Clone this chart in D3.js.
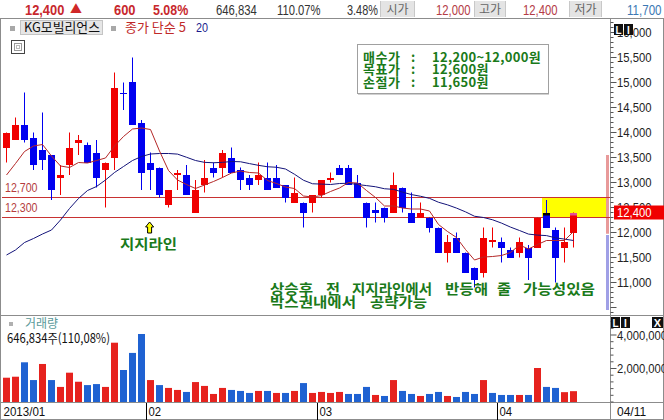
<!DOCTYPE html>
<html><head><meta charset="utf-8">
<script src="https://cdn.jsdelivr.net/npm/d3@7"></script>
<style>
html,body{margin:0;padding:0;background:#fff;}
svg{display:block;}
</style></head><body>
<svg id="c" width="664" height="420"></svg>
<script>
// ---------------- DATA ----------------
const dates = [
 "2013-01-10","2013-01-11","2013-01-14","2013-01-15","2013-01-16","2013-01-17","2013-01-18","2013-01-21","2013-01-22","2013-01-23","2013-01-24","2013-01-25","2013-01-28","2013-01-29","2013-01-30","2013-01-31",
 "2013-02-01","2013-02-04","2013-02-05","2013-02-06","2013-02-07","2013-02-08","2013-02-12","2013-02-13","2013-02-14","2013-02-15","2013-02-18","2013-02-19","2013-02-20","2013-02-21","2013-02-22","2013-02-25","2013-02-26","2013-02-27","2013-02-28",
 "2013-03-04","2013-03-05","2013-03-06","2013-03-07","2013-03-08","2013-03-11","2013-03-12","2013-03-13","2013-03-14","2013-03-15","2013-03-18","2013-03-19","2013-03-20","2013-03-21","2013-03-22","2013-03-25","2013-03-26","2013-03-27","2013-03-28","2013-03-29",
 "2013-04-01","2013-04-02","2013-04-03","2013-04-04","2013-04-05","2013-04-08","2013-04-09","2013-04-10","2013-04-11"];
const opens = [13700,13850,14150,13900,13650,13550,13100,13350,13800,13750,13600,13250,13500,14800,15000,14200,13400,13300,12550,13150,13150,12400,12950,13300,13300,13500,13250,13100,13050,13100,13100,12950,12600,12600,12600,12750,13050,13300,13300,13000,12600,12450,12500,12400,12900,12400,12300,12300,12100,11600,11900,11600,11300,11200,11800,11800,11650,11600,11700,11700,12400,12050,11700,12000];
const highs = [14000,14300,14800,14000,14400,13550,13350,14000,13950,13800,13850,13400,15200,15000,15500,14250,13600,13300,12850,13250,13350,13050,13450,13400,13650,13700,13300,13150,13400,13400,13350,12950,13100,12600,12750,13050,13200,13350,13350,13150,12600,12600,12500,13200,12900,12800,12600,12300,12100,11950,12000,11600,11300,12100,12100,11900,11700,11900,11750,12300,12650,12100,12100,12400];
const lows = [13400,13850,13800,13250,13250,12650,12750,13150,13550,13400,12900,12500,13250,14450,14150,12850,12850,12700,12500,12850,12750,12400,12800,13100,13100,13200,12850,12850,12950,12850,12900,12600,12600,12100,12400,12700,13000,13150,12950,12700,12100,12200,12200,12400,12400,12200,12300,12000,11600,11400,11600,11200,10900,11100,11700,11400,11500,11500,11050,11700,12100,11000,11400,11700];
const closes = [14000,14150,13850,13350,13450,12850,13150,13700,13850,13400,13100,13400,14900,14800,14150,13200,13250,12750,12850,13200,12750,12850,13100,13200,13600,13200,13050,12950,13150,12850,12900,12700,12800,12400,12750,13050,13100,13150,12950,12700,12300,12400,12300,12950,12500,12200,12400,12100,11600,11800,11600,11200,11050,11900,11850,11700,11500,11800,11500,12300,12100,11500,11800,12400];
const volumes = [1450000,1510000,2370000,1310000,2270000,1310000,900000,1750000,1210000,1010000,1070000,900000,3540000,1910000,2930000,4060000,1310000,1010000,840000,720000,600000,1190000,960000,480000,840000,720000,660000,540000,660000,660000,540000,540000,660000,1130000,540000,600000,540000,600000,480000,480000,900000,420000,360000,1310000,660000,480000,360000,480000,600000,360000,300000,600000,480000,1310000,540000,420000,420000,420000,420000,2030000,900000,840000,587600,646834];
const ma5 = [13150,13380,13620,13730,13760,13530,13330,13300,13400,13390,13440,13490,13730,13920,14070,14090,14060,13630,13240,13050,12960,12880,12950,13020,13100,13190,13230,13200,13190,13040,12980,12910,12880,12730,12710,12740,12820,12890,13000,12990,12840,12700,12530,12530,12490,12470,12470,12430,12160,12020,11900,11660,11450,11510,11520,11540,11600,11750,11670,11760,11840,11840,11840,12020];
const ma20 = [11550,11650,11800,11880,11970,12050,12250,12480,12680,12840,12920,13050,13200,13320,13440,13520,13570,13580,13580,13568,13505,13440,13403,13395,13403,13420,13415,13378,13343,13315,13305,13270,13165,13045,12975,12968,12960,12980,12985,12960,12938,12915,12875,12863,12808,12758,12725,12683,12605,12553,12488,12413,12325,12300,12255,12188,12108,12040,11968,11948,11938,11893,11868,11840];
const priceTickLabels = [16000,15500,15000,14500,14000,13500,13000,12500,12000,11500,11000];
const volTickLabels = [4000000,2000000];
const monthLabels = ["2013/01","02","03","04"];
const lastDateLabel = "04/11";
const supportLevels = [12700,12300];
const bandUp = [11975,13550];
const bandDown = [10450,11950];
const headerValues = ["12,400","600","5.08%","646,834","110.07%","3.48%","12,000","12,400","11,700"];
const headerLabels = ["시가","고가","저가"];
const planLabels = ["매수가","목표가","손절가"];
const planValues = ["12,200~12,000원","12,600원","11,650원"];
const supportNote = "지지라인";
const noteLine1 = ["상승후","전","지지라인에서","반등해","줄","가능성있음"];
const noteLine2 = ["박스권내에서","공략가능"];
const lastPrice = 12400;

// ---------------- SETUP ----------------
const NUM = "'Liberation Sans', Arial, sans-serif";
const KR = "'Noto Sans CJK KR', 'Noto Sans', sans-serif";
const RED = "#f00000", BLUE = "#0000f0", GREEN = "#1a7a1a";
const svg = d3.select("#c");
svg.append("rect").attr("width",664).attr("height",420).attr("fill","#fff");

function nlen(s){ let w=0; for(const ch of s){ if(/[0-9]/.test(ch)) w+=6.3; else if(ch===','||ch==='.') w+=3; else if(ch==='/') w+=4; else if(ch==='%') w+=9; else if(ch==='('||ch===')') w+=4; else if(ch===' ') w+=3; else w+=12; } return w; }
function t(g,x,y,s,o={}){
  const e=g.append("text").attr("x",x).attr("y",y).text(s)
    .attr("font-size",o.size||13).attr("fill",o.fill||"#000")
    .attr("font-family",o.family||NUM);
  if(o.weight) e.attr("font-weight",o.weight);
  if(o.len) e.attr("textLength",o.len).attr("lengthAdjust","spacingAndGlyphs");
  if(o.anchor) e.attr("text-anchor",o.anchor);
  if(o.ls!==undefined) e.attr("letter-spacing",o.ls);
  if(o.dy) e.attr("dy",o.dy);
  return e;
}
// one text element; each word is a tspan placed at its own x with a set width
function words(g,y,list,xs,ws,o){
  const e=g.append("text").attr("y",y).attr("font-size",o.size).attr("font-family",KR)
    .attr("font-weight","bold").attr("fill",o.fill).attr("xml:space","preserve");
  list.forEach((w,k)=>{
    e.append("tspan").attr("x",xs[k]).attr("textLength",ws[k]).attr("lengthAdjust","spacingAndGlyphs").text(w);
    if(k<list.length-1) e.append("tspan").text(" ");
  });
  return e;
}

const N = closes.length;
const data = d3.range(N).map(i=>({i,date:dates[i],o:opens[i],h:highs[i],l:lows[i],c:closes[i],v:volumes[i]}));
const x = d3.scaleLinear().domain([-0.5,67.5]).range([2,614]);
const yP = d3.scaleLinear().domain([11000,16000]).range([282.5,32.5]);
const yV = d3.scaleLinear().domain([0,4000000]).range([402,335]);
const AX = 610.5;

// ---------------- HEADER ----------------
const hd = svg.append("g");
const hx = [25,114,153,216,277,347,436,523,627];
const hcol = ["#c8282d","#c8282d","#c8282d","#333","#333","#333","#b43c46","#b43c46","#3c78b4"];
headerValues.forEach((s,k)=>{
  t(hd,hx[k],15,s,{size:14,fill:hcol[k],weight:k<3?"bold":null,len:k<3?nlen(s)*1.14:nlen(s)});
});
t(hd,70,14,"▲",{size:12,fill:"#d02828",family:KR});
const boxX=[[380,415],[474,506],[569,602]];
headerLabels.forEach((s,k)=>{
  hd.append("rect").attr("x",boxX[k][0]).attr("y",1).attr("width",boxX[k][1]-boxX[k][0]).attr("height",16).attr("fill","#e4e4e4");
  hd.append("line").attr("x1",boxX[k][0]+0.5).attr("x2",boxX[k][0]+0.5).attr("y1",1).attr("y2",17).attr("stroke","#c8c8c8");
  hd.append("line").attr("x1",boxX[k][1]-0.5).attr("x2",boxX[k][1]-0.5).attr("y1",1).attr("y2",17).attr("stroke","#c8c8c8");
  t(hd,(boxX[k][0]+boxX[k][1])/2,14,s,{size:12,fill:"#666",family:KR,anchor:"middle"});
});

// ---------------- FRAME ----------------
const fr = svg.append("g").attr("stroke","#8c8c8c").attr("fill","none");
fr.append("line").attr("x1",0).attr("x2",664).attr("y1",18.5).attr("y2",18.5);
fr.append("line").attr("x1",0.5).attr("x2",0.5).attr("y1",18).attr("y2",420);
fr.append("line").attr("x1",663.5).attr("x2",663.5).attr("y1",18).attr("y2",420);
fr.append("line").attr("x1",0).attr("x2",664).attr("y1",315.5).attr("y2",315.5);
fr.append("line").attr("x1",0).attr("x2",664).attr("y1",402.5).attr("y2",402.5);
fr.append("line").attr("x1",0).attr("x2",664).attr("y1",419.5).attr("y2",419.5);
fr.append("line").attr("x1",AX).attr("x2",AX).attr("y1",18).attr("y2",420);

// ---------------- MAIN PLOT ----------------
svg.append("clipPath").attr("id","pc").append("rect").attr("x",1).attr("y",19).attr("width",609).attr("height",296);
svg.append("clipPath").attr("id","vc").append("rect").attr("x",1).attr("y",316).attr("width",609).attr("height",86);
const plot = svg.append("g").attr("clip-path","url(#pc)");

plot.append("rect").attr("x",x(59.5)).attr("width",606-x(59.5))
  .attr("y",yP(d3.max(supportLevels))).attr("height",yP(d3.min(supportLevels))-yP(d3.max(supportLevels)))
  .attr("fill","#ffff00");
plot.append("rect").attr("x",606).attr("width",3).attr("y",yP(bandUp[1])).attr("height",yP(bandUp[0])-yP(bandUp[1])).attr("fill","#e89a9a");
plot.append("rect").attr("x",606).attr("width",3).attr("y",yP(bandDown[1])).attr("height",yP(bandDown[0])-yP(bandDown[1])).attr("fill","#a0a0e6");

supportLevels.forEach(v=>{
  plot.append("line").attr("x1",2).attr("x2",610).attr("y1",yP(v)).attr("y2",yP(v)).attr("stroke","#c83232");
  t(plot,5,yP(v)-5.5,d3.format(",")(v),{size:13,fill:"#b43c3c",len:nlen(d3.format(",")(v))-2});
});

const isUp = d => d.c>d.o || (d.c===d.o && (d.i===0 || d.c>=closes[d.i-1]));
const cg = plot.append("g").selectAll("g").data(data).join("g");
cg.append("line").attr("x1",d=>x(d.i)).attr("x2",d=>x(d.i))
  .attr("y1",d=>yP(d.h)).attr("y2",d=>yP(d.l)).attr("stroke",d=>isUp(d)?RED:BLUE);
cg.append("rect").attr("x",d=>x(d.i)-3.5).attr("width",7)
  .attr("y",d=>Math.round(yP(Math.max(d.o,d.c))))
  .attr("height",d=>Math.max(1,Math.round(yP(Math.min(d.o,d.c)))-Math.round(yP(Math.max(d.o,d.c)))))
  .attr("fill",d=>isUp(d)?RED:BLUE);
[[60,"#000"],[63,"#e0509a"]].forEach(([i,col])=>{
  plot.append("rect").attr("x",x(i)-3.5).attr("width",7).attr("y",Math.round(yP(lastPrice))).attr("height",2.5).attr("fill",col);
});

const line = d3.line().x((d,i)=>x(i)).y(d=>yP(d));
plot.append("path").attr("d",line(ma20)).attr("fill","none").attr("stroke","#14147a").attr("stroke-width",1);
plot.append("path").attr("d",line(ma5)).attr("fill","none").attr("stroke","#b42828").attr("stroke-width",1);

// legend row
svg.append("rect").attr("x",10).attr("y",26).attr("width",5).attr("height",5).attr("fill","#a8a8a8");
svg.append("rect").attr("x",20.5).attr("y",20.5).attr("width",82).attr("height",14).attr("fill","#e6e6e6").attr("stroke","#c4c4c4");
t(svg,24,32,"KG모빌리언스",{size:13,family:KR,fill:"#111",len:76});
svg.append("rect").attr("x",111).attr("y",26).attr("width",5).attr("height",5).attr("fill","#a8a8a8");
t(svg,125,32,"종가 단순 5",{size:13,family:KR,fill:"#c02828"});
t(svg,196,32,"20",{size:13,fill:"#1a1a8c",len:12});
svg.append("rect").attr("x",11.5).attr("y",40.5).attr("width",13).attr("height",13).attr("fill","#fff").attr("stroke","#444");
svg.append("rect").attr("x",14.5).attr("y",43.5).attr("width",7).attr("height",7).attr("fill","none").attr("stroke","#999");
svg.append("rect").attr("x",16.5).attr("y",45.5).attr("width",3).attr("height",3).attr("fill","none").attr("stroke","#bbb");

// info box
const ib = svg.append("g");
ib.append("rect").attr("x",357.5).attr("y",44.5).attr("width",191).attr("height",49).attr("fill","#fff").attr("stroke","#a0a0a0");
ib.append("line").attr("x1",358).attr("x2",549).attr("y1",94.5).attr("y2",94.5).attr("stroke","#d0d0d0");
planLabels.forEach((s,k)=>{
  const by=[61.5,74,86.5][k];
  t(ib,363,by,s,{size:13,family:KR,weight:"bold",fill:GREEN,ls:0.5});
  t(ib,411,by,":",{size:13,family:KR,weight:"bold",fill:GREEN});
  t(ib,432,by,planValues[k],{size:13,family:KR,weight:"bold",fill:GREEN,ls:0.3});
});

// support annotation
const ax0 = x(15.9);
plot.append("path").attr("d",`M${ax0},${222} L${ax0-4},${227} L${ax0-2},${227} L${ax0-2},${233} L${ax0+2},${233} L${ax0+2},${227} L${ax0+4},${227} Z`)
  .attr("fill","#ffff00").attr("stroke","#000").attr("stroke-width",1);
t(svg,120,248.5,supportNote,{size:14,family:KR,weight:"bold",fill:GREEN,len:57});
words(svg,293.5,noteLine1,[270,326,352,445,497,523],[43,14,80,43,14,72],{size:14,fill:GREEN});
words(svg,307,noteLine2,[270,370],[86,57],{size:14,fill:GREEN});

// price axis
const pa = svg.append("g");
d3.range(10400,16300,100).forEach(v=>{
  const major = v%500===0;
  pa.append("line").attr("x1",AX).attr("x2",AX+(major?6:3)).attr("y1",yP(v)).attr("y2",yP(v)).attr("stroke","#555");
});
priceTickLabels.forEach(v=>{
  const s=d3.format(",")(v);
  t(pa,617,yP(v),s,{size:13,fill:"#222",len:nlen(s),dy:"0.36em"});
});
pa.append("rect").attr("x",614).attr("y",yP(lastPrice)-7).attr("width",50).attr("height",14).attr("fill","#f00000");
t(pa,617,yP(lastPrice),d3.format(",")(lastPrice),{size:13,fill:"#fff",len:nlen("12,400"),dy:"0.36em"});

function badge(g,x0,y0,close){
  ["L","I"].forEach((c,k)=>{
    g.append("rect").attr("x",x0+k*10).attr("y",y0).attr("width",9).attr("height",11).attr("fill","#111");
    t(g,x0+k*10+4.5,y0+9.5,c,{size:10,weight:"bold",fill:"#fff",anchor:"middle"});
  });
  if(close){
    g.append("rect").attr("x",652).attr("y",y0).attr("width",11).attr("height",11).attr("fill","#111");
    t(g,657.5,y0+9.5,"X",{size:11,weight:"bold",fill:"#fff",anchor:"middle"});
  }
}
badge(svg,614,24,false);

// ---------------- VOLUME ----------------
const vp = svg.append("g").attr("clip-path","url(#vc)");
vp.selectAll("rect").data(data).join("rect")
  .attr("x",d=>x(d.i)-3.5).attr("width",7)
  .attr("y",d=>yV(d.v)).attr("height",d=>yV(0)-yV(d.v))
  .attr("fill",d=>(d.i===0? d.c>d.o : d.c>closes[d.i-1])?"#e6221e":"#1f62d2");
svg.append("rect").attr("x",9).attr("y",322).attr("width",4).attr("height",4).attr("fill","#b0b0b0");
t(svg,25,328,"거래량",{size:12,family:KR,fill:"#5a9a9a"});
const lastV=volumes[N-1], prevV=volumes[N-2];
const vs = d3.format(",")(lastV)+"주("+d3.format(".2f")(lastV/prevV*100).replace(".",",")+"%)";
t(svg,7,343,vs,{size:13,family:KR,fill:"#111",len:103});
const va = svg.append("g");
d3.range(0,5200000,400000).forEach(v=>{
  const major = v%2000000===0 && v>0;
  va.append("line").attr("x1",AX).attr("x2",AX+(major?6:3)).attr("y1",yV(v)).attr("y2",yV(v)).attr("stroke","#555");
});
volTickLabels.forEach(v=>{
  const s=d3.format(",")(v);
  t(va,617,yV(v),s,{size:13,fill:"#222",len:nlen(s),dy:"0.36em"});
});
badge(svg,611,317,true);

// ---------------- X AXIS ----------------
const xa = svg.append("g");
const starts = data.filter(d=>d.i===0 || d.date.slice(5,7)!==dates[d.i-1].slice(5,7));
starts.forEach((d,k)=>{
  const sx = d.i===0 ? 1 : x(d.i-0.5);
  if(d.i>0) xa.append("line").attr("x1",sx+0.5).attr("x2",sx+0.5).attr("y1",403).attr("y2",420).attr("stroke","#000");
  t(xa,sx+2.5,416,monthLabels[k],{size:13,fill:"#111",len:nlen(monthLabels[k])});
});
t(xa,617,416,lastDateLabel,{size:13,fill:"#111",len:nlen(lastDateLabel)});
</script>
</body></html>
